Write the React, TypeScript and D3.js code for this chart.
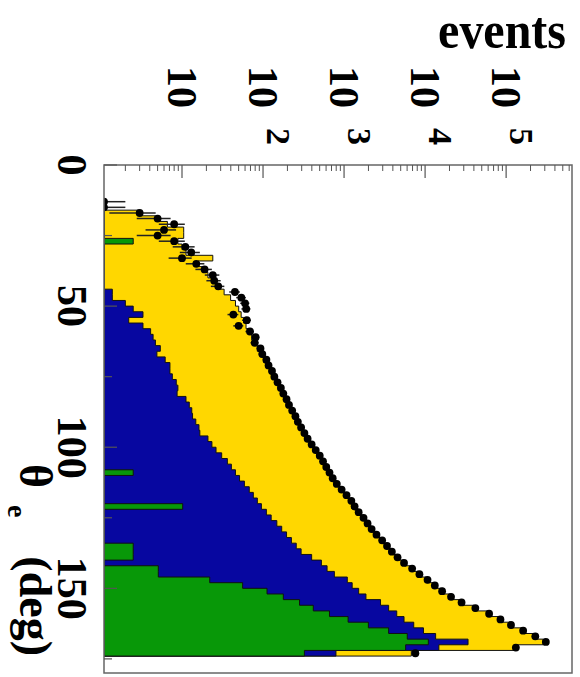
import React from "react";
import * as d3 from "d3";

// theta bins (deg): lower edges, 2 deg wide
const binLow = [12,14,16,18,20,22,24,26,28,30,32,34,36,38,40,42,44,46,48,50,52,54,56,58,60,62,64,66,68,70,72,74,76,78,80,82,84,86,88,90,92,94,96,98,100,102,104,106,108,110,112,114,116,118,120,122,124,126,128,130,132,134,136,138,140,142,144,146,148,150,152,154,156,158,160,162,164,166,168,170,172];
const binWidth = 2;

// measured data (events per bin)
const dataCounts = [1,1,3,5,8,6,5,8,11,13,10,15,19,24,25,28,45,54,60,62,43,63,50,69,81,79,93,98,110,117,129,138,151,166,178,195,209,229,251,269,295,324,355,398,447,501,550,603,661,724,813,933,1072,1230,1349,1514,1738,1950,2188,2512,2951,3388,3890,4571,5495,6918,8511,10715,13183,16218,20893,28184,41687,61660,85114,114815,162181,229087,309030,131826,7586];

// stacked MC: total (yellow), green+blue (blue), green only
const totalMC = [0,0,3.0,4.7,6.6,10.5,10.5,8.9,10,11.2,24,15.8,18.2,20.9,24,26.9,33.1,39.8,45.7,50.1,53.7,57.5,61.7,67.6,72.4,79.4,85.1,93.3,102,112,123,135,148,162,178,191,209,229,245,269,288,316,355,398,437,490,537,603,661,741,832,933,1047,1175,1318,1514,1698,1950,2188,2512,2884,3311,3890,4571,5495,6761,8318,10471,13183,16596,21380,28184,39811,58884,83176,112202,158489,218776,288403,125893,6761];
const blueCum = [0,0,0,0,0,0,0,0,0,0,0,0,0,0,0,0,1.38,1.38,2.0,2.5,3.3,2.2,3.3,4.1,4.4,4.7,5.4,4.9,6.2,7.1,7.1,7.6,8.5,8.9,8.7,11.2,12.3,13.2,13.5,14.8,16.2,16.6,20.9,23.4,26.3,30.9,36.3,40.7,45.7,51.3,58.9,67.6,75.9,85.1,95.5,110,126,148,170,195,224,257,295,398,525,617,759,1096,1259,1514,1862,2818,3548,4467,5495,7244,9550,13490,33884,14791,794];
const greenCum = [0,0,0,0,0,0,0,2.5,0,0,0,0,0,0,0,0,0,0,0,0,0,0,0,0,0,0,0,0,0,0,0,0,0,0,0,0,0,0,0,0,0,0,0,0,0,0,0,0,2.5,0,0,0,0,0,10.2,0,0,0,0,0,0,2.5,2.5,2.5,0,5.1,5.1,22,56,112,178,282,417,661,1122,1995,3548,6026,10965,5754,324];

const eventTicks = [10, 100, 1000, 10000, 100000];
const eventExps = ["", "2", "3", "4", "5"];
const thetaLabels = [0, 50, 100, 150];
const thetaTicks = [0, 25, 50, 75, 100, 125, 150, 175];

const COL_Y = "#FFD700";
const COL_B = "#0707A0";
const COL_G = "#089808";

export default function App() {
  const L = 104, R = 572, T = 165, B = 673;
  const x = d3.scaleLog().domain([1.09, 6.5e5]).range([L, R]).clamp(true);
  const y = d3.scaleLinear().domain([0, 180]).range([T, B]);

  const xv = (v: number) => (v > 0 ? x(v) : L);

  const stepPath = (vals: number[]) => {
    let p = `M${L},${y(binLow[0])}`;
    vals.forEach((v, k) => {
      const lo = binLow[k];
      p += `L${xv(v)},${y(lo)}L${xv(v)},${y(lo + binWidth)}`;
    });
    p += `L${L},${y(binLow[binLow.length - 1] + binWidth)}Z`;
    return p;
  };

  const minorTicks: number[] = [];
  [1, 10, 100, 1000, 10000, 100000].forEach((d) => {
    [2, 3, 4, 5, 6, 7, 8, 9].forEach((m) => {
      const v = d * m;
      if (v >= 1.09 && v <= 6.5e5) minorTicks.push(v);
    });
  });

  const font = "'Liberation Serif', 'Times New Roman', serif";

  return (
    <svg width={580} height={677} style={{ position: "fixed", left: 0, top: 0, background: "#fff" }} fontFamily={font}>
      <rect x={0} y={0} width={580} height={677} fill="#fff" />
      <defs>
        <clipPath id="frame">
          <rect x={L} y={T} width={R - L} height={B - T} />
        </clipPath>
      </defs>
      <g clipPath="url(#frame)">
        <path d={stepPath(totalMC)} fill={COL_Y} stroke="#111" strokeWidth={1} />
        <path d={stepPath(blueCum)} fill={COL_B} stroke="#111" strokeWidth={1} />
        <path d={stepPath(greenCum)} fill={COL_G} stroke="#111" strokeWidth={1} />
        {dataCounts.map((n, k) => {
          const yc = y(binLow[k] + binWidth / 2);
          const e = Math.sqrt(n);
          return (
            <g key={k}>
              <line x1={xv(n - e)} x2={xv(n + e)} y1={yc} y2={yc} stroke="#222" strokeWidth={1.5} />
              <circle cx={x(n)} cy={yc} r={3.9} fill="#000" />
            </g>
          );
        })}
      </g>
      <rect x={L} y={T} width={R - L} height={B - T} fill="none" stroke="#666" strokeWidth={1.5} />
      {eventTicks.map((v) => (
        <line key={"M" + v} x1={x(v)} x2={x(v)} y1={T} y2={T + 13} stroke="#555" strokeWidth={1.2} />
      ))}
      {minorTicks.map((v) => (
        <line key={"m" + v} x1={x(v)} x2={x(v)} y1={T} y2={T + 6} stroke="#555" strokeWidth={1} />
      ))}
      {thetaTicks.map((t) => (
        <line key={"t" + t} x1={L} x2={L + (t % 50 === 0 ? 13 : 8)} y1={y(t)} y2={y(t)} stroke="#555" strokeWidth={1.2} />
      ))}
      {eventTicks.map((v, i) => (
        <g key={"l" + v}>
          <text transform={`translate(${x(v) - 14},66) rotate(90)`} fontSize={42} fontWeight="bold" fill="#000">10</text>
          {eventExps[i] && (
            <text transform={`translate(${x(v) + 4},128) rotate(90)`} fontSize={34} fontWeight="bold" fill="#000">{eventExps[i]}</text>
          )}
        </g>
      ))}
      {thetaLabels.map((t) => (
        <text key={"tl" + t} transform={`translate(58,${y(t)}) rotate(90)`} fontSize={42} fontWeight="bold" textAnchor="middle" fill="#000">{t}</text>
      ))}
      <text transform="translate(566,48) scale(1,1.1)" fontSize={48} fontWeight="bold" textAnchor="end" fill="#000">events</text>
      <text transform="translate(20,464) rotate(90)" fontSize={46} fontWeight="bold" fill="#000">θ</text>
      <text transform="translate(8,505) rotate(90)" fontSize={28} fontWeight="bold" fill="#000">e</text>
      <text transform="translate(20,656) rotate(90)" fontSize={46} fontWeight="bold" textAnchor="end" fill="#000">(deg)</text>
    </svg>
  );
}
